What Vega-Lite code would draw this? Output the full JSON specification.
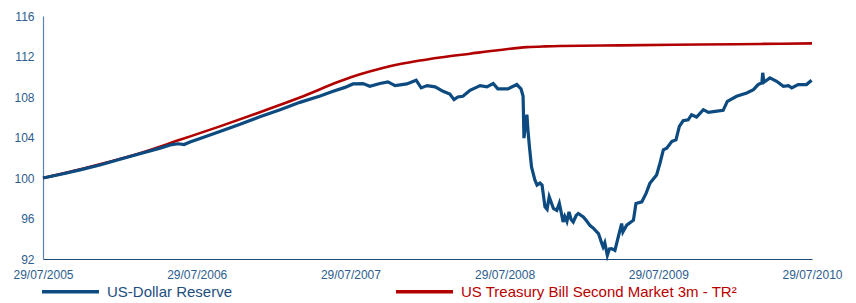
{
  "$schema": "https://vega.github.io/schema/vega-lite/v6.json",
  "width": 769,
  "height": 243,
  "autosize": {"type": "none"},
  "padding": {"left": 43, "top": 16, "right": 44, "bottom": 44},
  "background": "white",
  "config": {
    "view": {"stroke": null},
    "font": "Liberation Sans"
  },
  "datasets": {
    "red": [
      {"date": "2005-07-29", "value": 100.0},
      {"date": "2005-09-24", "value": 100.53},
      {"date": "2005-12-11", "value": 101.35},
      {"date": "2006-03-16", "value": 102.45},
      {"date": "2006-06-19", "value": 103.77},
      {"date": "2006-09-22", "value": 105.1},
      {"date": "2006-12-26", "value": 106.5},
      {"date": "2007-03-31", "value": 107.95},
      {"date": "2007-07-04", "value": 109.55},
      {"date": "2007-08-21", "value": 110.25},
      {"date": "2007-10-07", "value": 110.8},
      {"date": "2007-11-24", "value": 111.25},
      {"date": "2008-01-10", "value": 111.6},
      {"date": "2008-02-27", "value": 111.9},
      {"date": "2008-05-08", "value": 112.28},
      {"date": "2008-07-18", "value": 112.65},
      {"date": "2008-09-20", "value": 112.93},
      {"date": "2008-11-02", "value": 113.0},
      {"date": "2008-12-08", "value": 113.03},
      {"date": "2009-04-29", "value": 113.1},
      {"date": "2009-11-05", "value": 113.18},
      {"date": "2010-03-28", "value": 113.24},
      {"date": "2010-07-29", "value": 113.3}
    ],
    "blue": [
      {"date": "2005-07-29", "value": 100.0},
      {"date": "2005-09-07", "value": 100.35},
      {"date": "2005-10-25", "value": 100.8},
      {"date": "2005-12-11", "value": 101.28},
      {"date": "2006-01-28", "value": 101.85},
      {"date": "2006-03-16", "value": 102.4},
      {"date": "2006-05-03", "value": 102.95},
      {"date": "2006-05-31", "value": 103.3},
      {"date": "2006-06-15", "value": 103.38},
      {"date": "2006-06-29", "value": 103.3},
      {"date": "2006-07-13", "value": 103.55},
      {"date": "2006-08-06", "value": 103.9},
      {"date": "2006-09-22", "value": 104.6},
      {"date": "2006-11-09", "value": 105.3},
      {"date": "2006-12-26", "value": 106.05},
      {"date": "2007-02-12", "value": 106.75},
      {"date": "2007-03-31", "value": 107.47},
      {"date": "2007-05-18", "value": 108.1},
      {"date": "2007-06-18", "value": 108.56},
      {"date": "2007-07-16", "value": 108.95},
      {"date": "2007-08-04", "value": 109.29},
      {"date": "2007-08-28", "value": 109.33},
      {"date": "2007-09-13", "value": 109.06},
      {"date": "2007-10-07", "value": 109.33},
      {"date": "2007-10-26", "value": 109.49},
      {"date": "2007-11-12", "value": 109.13},
      {"date": "2007-11-24", "value": 109.2},
      {"date": "2007-12-10", "value": 109.29},
      {"date": "2008-01-01", "value": 109.66},
      {"date": "2008-01-13", "value": 108.9},
      {"date": "2008-01-27", "value": 109.13},
      {"date": "2008-02-15", "value": 109.0},
      {"date": "2008-03-05", "value": 108.56},
      {"date": "2008-03-21", "value": 108.3},
      {"date": "2008-03-31", "value": 107.74},
      {"date": "2008-04-09", "value": 108.0},
      {"date": "2008-04-21", "value": 108.07},
      {"date": "2008-05-08", "value": 108.66},
      {"date": "2008-06-01", "value": 109.13},
      {"date": "2008-06-17", "value": 109.0},
      {"date": "2008-07-02", "value": 109.33},
      {"date": "2008-07-13", "value": 108.8},
      {"date": "2008-08-06", "value": 108.8},
      {"date": "2008-08-27", "value": 109.23},
      {"date": "2008-09-06", "value": 108.8},
      {"date": "2008-09-11", "value": 108.07},
      {"date": "2008-09-13", "value": 103.94},
      {"date": "2008-09-16", "value": 105.0},
      {"date": "2008-09-20", "value": 106.25},
      {"date": "2008-09-23", "value": 104.5},
      {"date": "2008-09-26", "value": 103.1},
      {"date": "2008-10-01", "value": 101.1},
      {"date": "2008-10-09", "value": 99.8},
      {"date": "2008-10-14", "value": 99.3},
      {"date": "2008-10-21", "value": 99.5},
      {"date": "2008-10-26", "value": 99.3},
      {"date": "2008-11-02", "value": 97.15},
      {"date": "2008-11-07", "value": 96.9},
      {"date": "2008-11-12", "value": 98.15},
      {"date": "2008-11-22", "value": 96.99},
      {"date": "2008-11-30", "value": 96.8},
      {"date": "2008-12-06", "value": 97.49},
      {"date": "2008-12-10", "value": 96.7},
      {"date": "2008-12-15", "value": 95.66},
      {"date": "2008-12-19", "value": 96.2},
      {"date": "2008-12-24", "value": 95.7},
      {"date": "2008-12-29", "value": 96.66},
      {"date": "2009-01-03", "value": 95.9},
      {"date": "2009-01-08", "value": 95.66},
      {"date": "2009-01-15", "value": 96.3},
      {"date": "2009-01-20", "value": 96.5},
      {"date": "2009-02-01", "value": 96.16},
      {"date": "2009-02-10", "value": 95.7},
      {"date": "2009-02-17", "value": 95.3},
      {"date": "2009-02-26", "value": 95.0},
      {"date": "2009-03-05", "value": 94.67},
      {"date": "2009-03-09", "value": 94.51},
      {"date": "2009-03-17", "value": 93.52},
      {"date": "2009-03-20", "value": 93.19},
      {"date": "2009-03-24", "value": 93.6},
      {"date": "2009-03-30", "value": 92.36},
      {"date": "2009-04-04", "value": 93.0},
      {"date": "2009-04-09", "value": 93.03},
      {"date": "2009-04-17", "value": 92.86},
      {"date": "2009-04-25", "value": 94.18},
      {"date": "2009-05-03", "value": 95.5},
      {"date": "2009-05-06", "value": 94.67},
      {"date": "2009-05-15", "value": 95.34},
      {"date": "2009-05-31", "value": 95.83},
      {"date": "2009-06-06", "value": 97.49},
      {"date": "2009-06-20", "value": 97.65},
      {"date": "2009-06-30", "value": 98.48},
      {"date": "2009-07-09", "value": 99.47},
      {"date": "2009-07-25", "value": 100.3},
      {"date": "2009-08-02", "value": 101.46},
      {"date": "2009-08-10", "value": 102.78},
      {"date": "2009-08-18", "value": 102.94},
      {"date": "2009-08-30", "value": 103.6},
      {"date": "2009-09-09", "value": 103.77},
      {"date": "2009-09-17", "value": 105.09},
      {"date": "2009-09-26", "value": 105.65},
      {"date": "2009-10-08", "value": 105.75},
      {"date": "2009-10-16", "value": 106.25},
      {"date": "2009-10-28", "value": 106.02},
      {"date": "2009-11-13", "value": 106.75},
      {"date": "2009-11-25", "value": 106.48},
      {"date": "2009-12-11", "value": 106.58},
      {"date": "2009-12-30", "value": 106.68},
      {"date": "2010-01-09", "value": 107.57},
      {"date": "2010-01-31", "value": 108.07},
      {"date": "2010-02-24", "value": 108.4},
      {"date": "2010-03-12", "value": 108.73},
      {"date": "2010-03-23", "value": 109.23},
      {"date": "2010-04-01", "value": 109.4},
      {"date": "2010-04-03", "value": 110.39},
      {"date": "2010-04-06", "value": 109.46},
      {"date": "2010-04-20", "value": 109.89},
      {"date": "2010-05-06", "value": 109.55},
      {"date": "2010-05-22", "value": 109.06},
      {"date": "2010-06-03", "value": 109.13},
      {"date": "2010-06-11", "value": 108.9},
      {"date": "2010-06-26", "value": 109.23},
      {"date": "2010-07-16", "value": 109.23},
      {"date": "2010-07-28", "value": 109.66}
    ]
  },
  "layer": [
    {
      "data": {"name": "red"},
      "mark": {"type": "line", "strokeWidth": 2.6, "interpolate": "monotone"},
      "encoding": {
        "x": {"field": "date", "type": "temporal"},
        "y": {"field": "value", "type": "quantitative"},
        "color": {"datum": "US Treasury Bill Second Market 3m - TR²"}
      }
    },
    {
      "data": {"name": "blue"},
      "mark": {"type": "line", "strokeWidth": 3.2},
      "encoding": {
        "x": {
          "field": "date",
          "type": "temporal",
          "scale": {
            "type": "utc",
            "domain": [
              {"year": 2005, "month": 7, "date": 29, "utc": true},
              {"year": 2010, "month": 7, "date": 29, "utc": true}
            ]
          },
          "axis": {
            "title": null,
            "values": [
              {"year": 2005, "month": 7, "date": 29, "utc": true},
              {"year": 2006, "month": 7, "date": 29, "utc": true},
              {"year": 2007, "month": 7, "date": 29, "utc": true},
              {"year": 2008, "month": 7, "date": 29, "utc": true},
              {"year": 2009, "month": 7, "date": 29, "utc": true},
              {"year": 2010, "month": 7, "date": 29, "utc": true}
            ],
            "format": "%d/%m/%Y",
            "grid": false,
            "ticks": false,
            "labelPadding": 10,
            "labelFontSize": 12,
            "labelColor": "#2d5d8d",
            "labelFont": "Liberation Sans",
            "labelOverlap": false,
            "labelFlush": false,
            "domainColor": "#1d4a78",
            "domainWidth": 1.2
          }
        },
        "y": {
          "field": "value",
          "type": "quantitative",
          "scale": {"domain": [92, 116], "nice": false, "zero": false},
          "axis": {
            "title": null,
            "values": [92, 96, 100, 104, 108, 112, 116],
            "grid": false,
            "ticks": false,
            "labelPadding": 9,
            "labelFontSize": 12,
            "labelColor": "#2d5d8d",
            "labelFont": "Liberation Sans",
            "domainColor": "#5a84ad",
            "domainWidth": 1.2
          }
        },
        "color": {
          "datum": "US-Dollar Reserve",
          "type": "nominal",
          "scale": {
            "domain": ["US-Dollar Reserve", "US Treasury Bill Second Market 3m - TR²"],
            "range": ["#0c4a80", "#b00000"]
          },
          "legend": {
            "title": null,
            "orient": "none",
            "legendX": -3,
            "legendY": 245,
            "direction": "horizontal",
            "symbolType": "stroke",
            "symbolSize": 3249,
            "symbolStrokeWidth": 3.5,
            "labelFontSize": 15,
            "labelFont": "Liberation Sans",
            "labelOffset": 6,
            "columnPadding": 156,
            "labelLimit": 400,
            "encode": {
              "labels": {
                "update": {
                  "fill": {"signal": "datum.label == 'US-Dollar Reserve' ? '#1d4e80' : '#b80000'"}
                }
              }
            }
          }
        }
      }
    }
  ]
}
